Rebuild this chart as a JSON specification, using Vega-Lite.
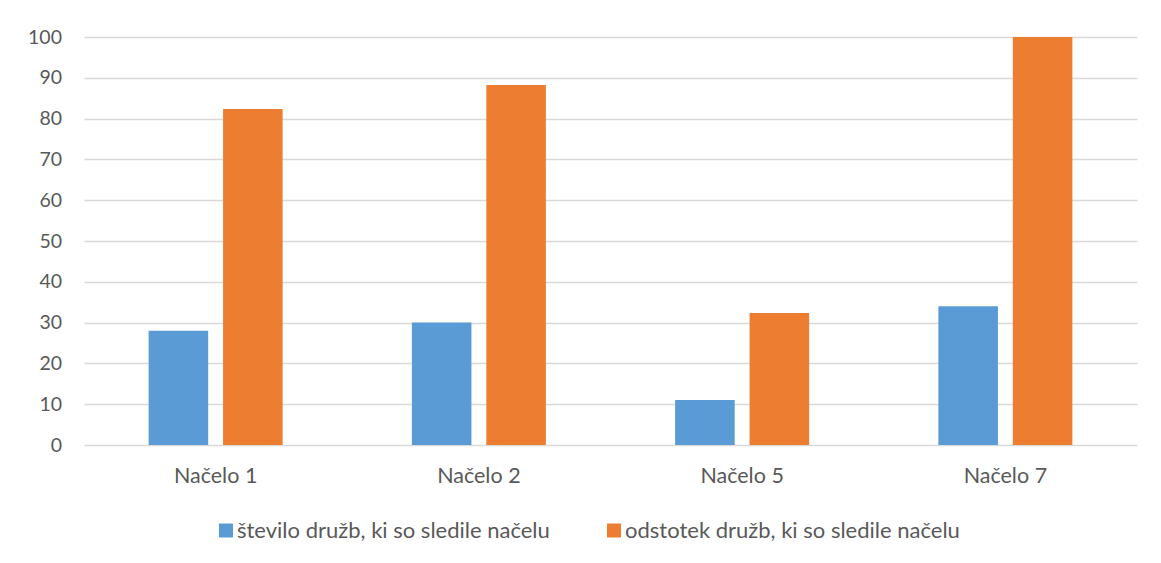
{
  "$schema": "https://vega.github.io/schema/vega-lite/v6.json",
  "width": 1053,
  "height": 408,
  "autosize": {"type": "none"},
  "padding": {"left": 84, "top": 37, "right": 24, "bottom": 118},
  "background": "white",
  "config": {"view": {"stroke": null}, "font": "Lato"},
  "data": {
    "values": [
      {"nacelo": "Načelo 1", "serija": "število družb, ki so sledile načelu", "vrednost": 28},
      {"nacelo": "Načelo 1", "serija": "odstotek družb, ki so sledile načelu", "vrednost": 82.35},
      {"nacelo": "Načelo 2", "serija": "število družb, ki so sledile načelu", "vrednost": 30},
      {"nacelo": "Načelo 2", "serija": "odstotek družb, ki so sledile načelu", "vrednost": 88.24},
      {"nacelo": "Načelo 5", "serija": "število družb, ki so sledile načelu", "vrednost": 11},
      {"nacelo": "Načelo 5", "serija": "odstotek družb, ki so sledile načelu", "vrednost": 32.35},
      {"nacelo": "Načelo 7", "serija": "število družb, ki so sledile načelu", "vrednost": 34},
      {"nacelo": "Načelo 7", "serija": "odstotek družb, ki so sledile načelu", "vrednost": 100}
    ]
  },
  "mark": {"type": "bar"},
  "encoding": {
    "x": {
      "field": "nacelo", "type": "nominal", "sort": null,
      "scale": {"paddingInner": 0.491, "paddingOuter": 0.2455},
      "axis": {"title": null, "labelAngle": 0, "domain": false, "ticks": false, "labelFontSize": 21.5, "labelColor": "#595959", "labelPadding": 20.5}
    },
    "xOffset": {
      "field": "serija", "type": "nominal", "sort": null,
      "scale": {"paddingInner": 0.2, "paddingOuter": 0}
    },
    "y": {
      "field": "vrednost", "type": "quantitative",
      "scale": {"domain": [0, 100], "nice": false},
      "axis": {"title": null, "values": [0, 10, 20, 30, 40, 50, 60, 70, 80, 90, 100], "domain": false, "ticks": false, "labelPadding": 22.5, "labelFontSize": 19.5, "labelColor": "#595959", "gridColor": "#d9d9d9", "gridWidth": 1.5}
    },
    "color": {
      "field": "serija", "type": "nominal", "sort": null,
      "scale": {"range": ["#5b9bd5", "#ed7d31"]},
      "legend": {"title": null, "orient": "none", "legendX": 131, "legendY": 482.5, "direction": "horizontal", "symbolType": "square", "symbolSize": 196, "symbolStrokeWidth": 0, "labelFontSize": 22, "labelColor": "#595959", "labelLimit": 0, "columnPadding": 53, "labelOffset": 0}
    }
  }
}
